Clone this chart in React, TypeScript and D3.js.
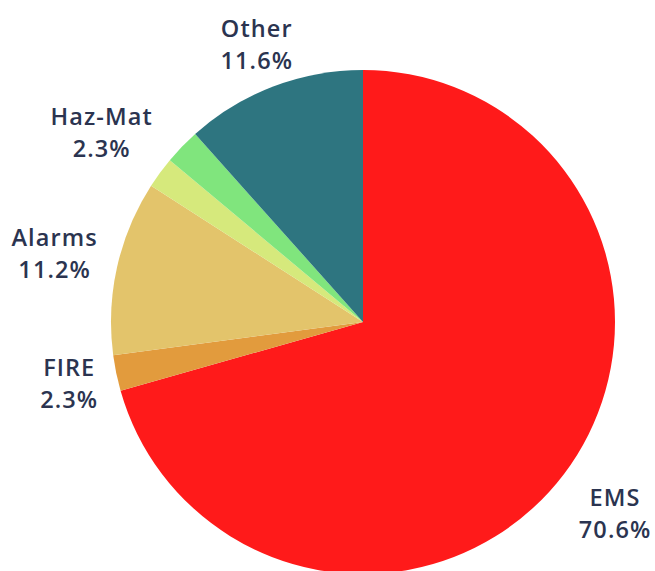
import React from 'react';
import * as d3 from 'd3';

const categories = ['EMS', 'FIRE', 'Alarms', '', 'Haz-Mat', 'Other'];
const values = [70.6, 2.3, 11.2, 2.0, 2.3, 11.6];
const colors = ['#ff1a1a', '#e29b3d', '#e3c46b', '#d6e97c', '#80e57d', '#2e7580'];

const width = 655;
const height = 571;
const cx = 363;
const cy = 322;
const radius = 252;

// label placement tweaks (angle in degrees, distance from centre)
const labelTweak = {
	Other: { r: 298 },
	'Haz-Mat': { a: 306, r: 323 },
	FIRE: { r: 300 },
	Alarms: { r: 316 },
	EMS: { r: 316 },
};

const App = () => {
	const data = categories.map((c, i) => ({ name: c, value: values[i], color: colors[i] }));
	const pie = d3.pie<any>().sort(null).value((d) => d.value);
	const arc = d3.arc<any>().innerRadius(0).outerRadius(radius);
	const arcs = pie(data);

	return (
		<svg width={width} height={height} style={{ position: 'absolute', left: 0, top: 0 }}>
			<g transform={`translate(${cx}, ${cy})`}>
				{arcs.map((a, i) => (
					<path key={i} d={arc(a)} fill={a.data.color} />
				))}
				{arcs.map((a, i) => {
					if (!a.data.name) return null;
					const t = labelTweak[a.data.name] || {};
					const ang = t.a !== undefined ? (t.a * Math.PI) / 180 : (a.startAngle + a.endAngle) / 2;
					const r = t.r || 312;
					const x = r * Math.sin(ang);
					const y = -r * Math.cos(ang);
					return (
						<text
							key={'l' + i}
							x={x}
							y={y}
							textAnchor="middle"
							fill="#2b3450"
							fontFamily="'Open Sans', sans-serif"
							fontWeight={600}
							fontSize={23.5}
							letterSpacing={1.1}
						>
							<tspan x={x} dy={-7}>{a.data.name}</tspan>
							<tspan x={x} dy={32}>{a.data.value.toFixed(1)}%</tspan>
						</text>
					);
				})}
			</g>
		</svg>
	);
};

export default App;
